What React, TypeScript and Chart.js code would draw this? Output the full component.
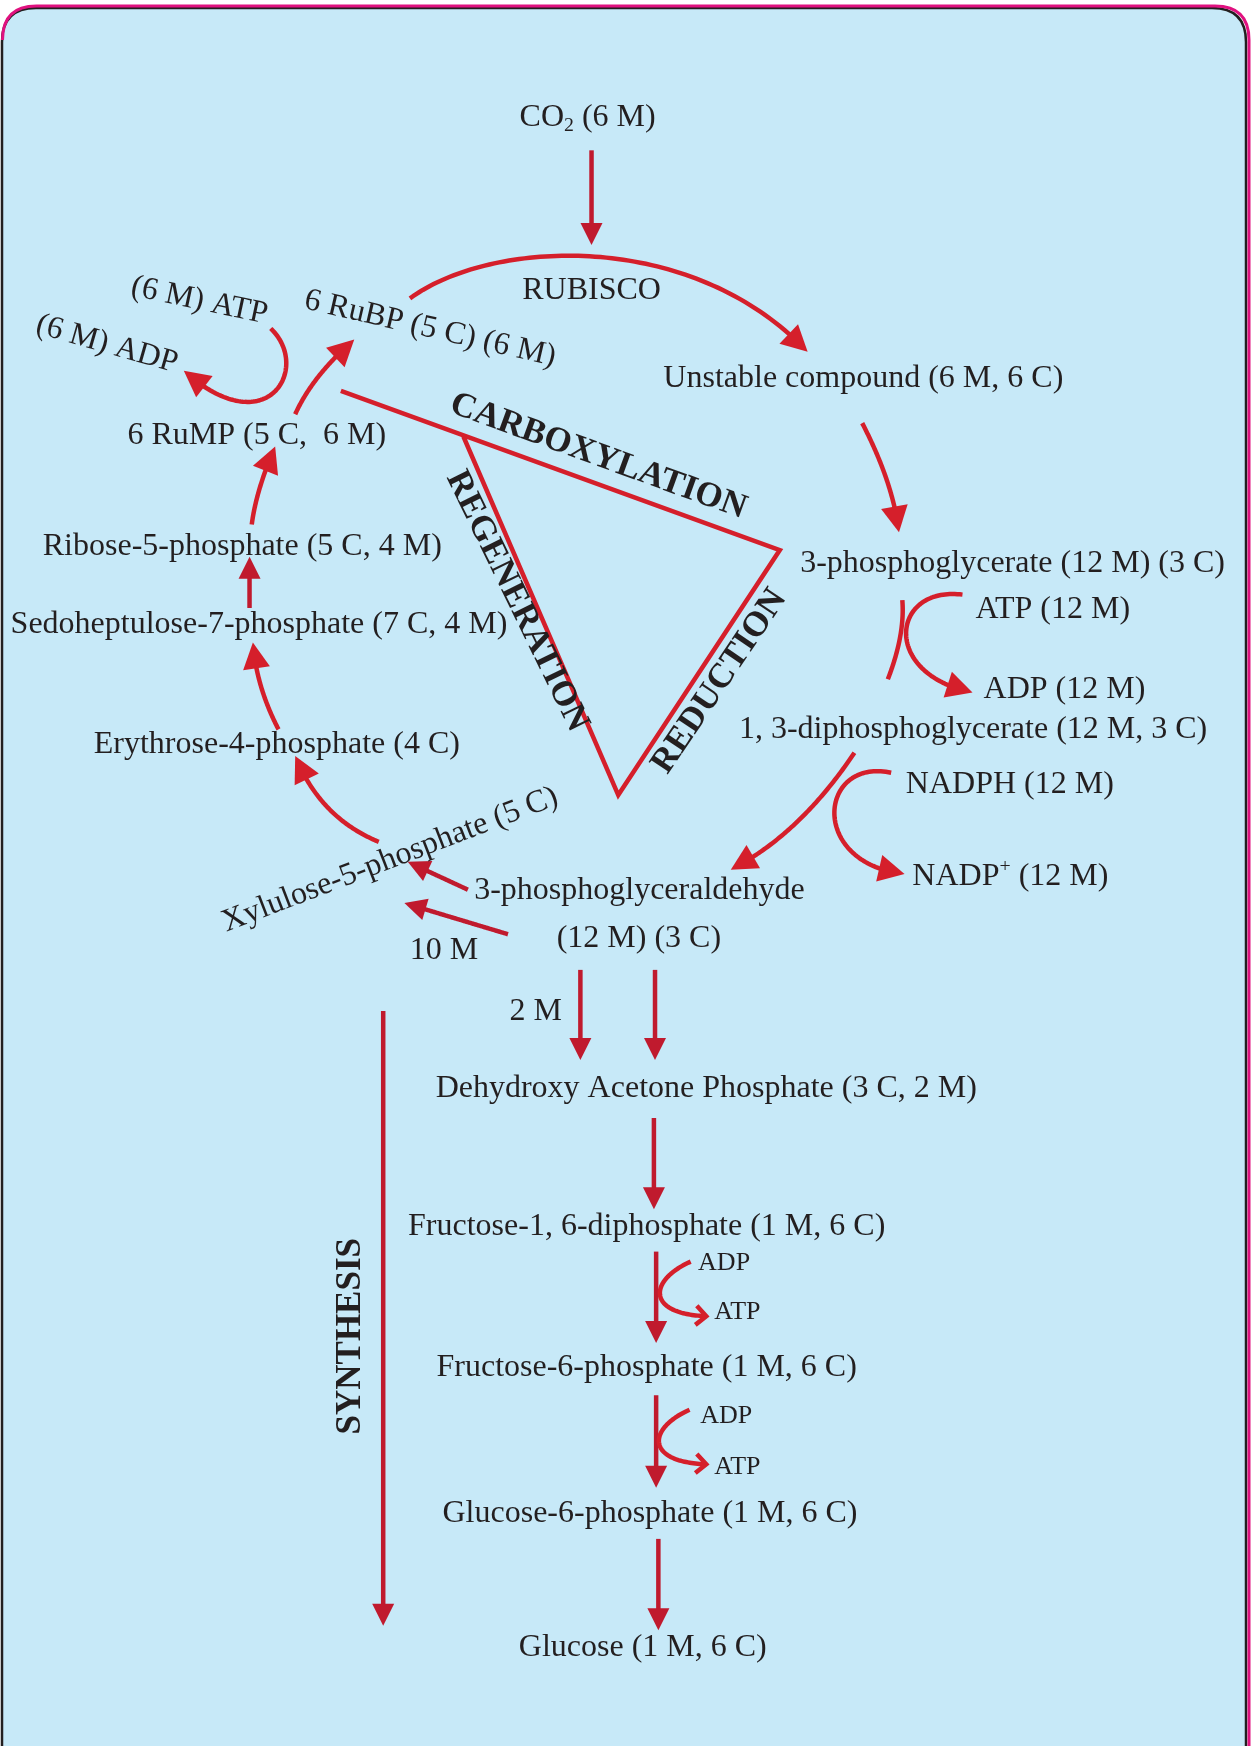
import React, { useEffect, useRef } from "react";
import { Chart, registerables } from "chart.js";

Chart.register(...registerables);

// Data space of the diagram (x to the right, y downward)
const SPACE_W = 1123;
const SPACE_H = 1568;

// Horizontal compound / cofactor labels
const labelText = [
  "RUBISCO",
  "Unstable compound (6 M, 6 C)",
  "3-phosphoglycerate (12 M) (3 C)",
  "ATP (12 M)",
  "ADP (12 M)",
  "1, 3-diphosphoglycerate (12 M, 3 C)",
  "NADPH (12 M)",
  "3-phosphoglyceraldehyde",
  "(12 M) (3 C)",
  "10 M",
  "2 M",
  "Erythrose-4-phosphate (4 C)",
  "Sedoheptulose-7-phosphate (7 C, 4 M)",
  "Ribose-5-phosphate (5 C, 4 M)",
  "6 RuMP (5 C,  6 M)",
  "Dehydroxy Acetone Phosphate (3 C, 2 M)",
  "Fructose-1, 6-diphosphate (1 M, 6 C)",
  "Fructose-6-phosphate (1 M, 6 C)",
  "Glucose-6-phosphate (1 M, 6 C)",
  "Glucose (1 M, 6 C)",
  "ADP",
  "ATP",
  "ADP",
  "ATP",
];
const labelX = [531, 775, 909, 945, 955.5, 873.5, 906.5, 574, 573.5, 398.5, 481, 248.5, 232.5, 217.5, 230.5, 634, 580.5, 580.5, 583.5, 577, 650, 662, 652, 662];
const labelY = [259, 338, 504, 545, 617, 653, 702, 798, 841, 851, 906, 666, 559, 489, 389, 975, 1099, 1226, 1357, 1477, 1132, 1176, 1270, 1315];
const labelSize = [32, 32, 32, 32, 32, 32, 32, 32, 32, 32, 32, 32, 32, 32, 32, 32, 32, 32, 32, 32, 26, 26, 26, 26];

// Tilted labels
const tiltText = ["6 RuBP (5 C) (6 M)", "(6 M) ATP", "(6 M) ADP", "Xylulose-5-phosphate (5 C)"];
const tiltX = [386, 179, 96, 350];
const tiltY = [293, 268, 307, 770];
const tiltAngle = [13, 12, 16, -21];
const tiltSize = [32, 32, 32, 32];

// Phase labels (bold)
const phaseText = ["CARBOXYLATION", "REGENERATION", "REDUCTION", "SYNTHESIS"];
const phaseX = [537, 464, 646, 315];
const phaseY = [410, 540, 612, 1200];
const phaseAngle = [20, 64, -56, -90];

// Labels with sub/superscripts: [text, relative size, baseline shift]
const richParts: [string, number, number][][] = [
  [["CO", 1, 0], ["2", 0.62, 0.28], [" (6 M)", 1, 0]],
  [["NADP", 1, 0], ["+", 0.62, -0.3], [" (12 M)", 1, 0]],
];
const richX = [527.5, 907];
const richY = [103, 785];

// Phase triangle + carboxylation line (polyline)
const triangleX = [306, 700, 555, 416];
const triangleY = [351, 494, 714, 392];

// Straight arrows: x0, y0, x1 (tip), y1 (tip)
const straightArrows: number[][] = [
  [531, 135, 531, 220],
  [420, 799, 366, 774],
  [456, 839, 363, 811],
  [521, 871, 521, 952],
  [588, 871, 588, 952],
  [587, 1004, 587, 1086],
  [589, 1124, 589, 1206],
  [589, 1253, 589, 1336],
  [591, 1382, 591, 1464],
  [344, 908, 344, 1460],
  [224, 546, 224, 500],
];

// Curved arrows in the cycle: cubic (8 numbers) or quadratic (6 numbers), last point is the tip
const cycleArrows: number[][] = [
  [368, 268, 440, 215, 620, 205, 725, 316],
  [774, 380, 801.5, 433, 807, 478],
  [864, 534, 800, 526, 790, 605, 873, 622],
  [767, 676, 717.7, 749.5, 656, 781],
  [800, 694, 735, 680, 725, 775, 812, 785],
  [340, 756, 287.5, 734.5, 265, 679],
  [250, 655, 230, 616.5, 227, 577],
  [226, 471, 230, 440, 247, 401],
  [265, 372, 280.5, 337.5, 318, 305],
  [243, 295, 280, 330, 240, 400, 165, 333],
];

// Curves without a head
const plainCurves: number[][] = [[810, 539, 812.5, 570, 797, 610]];

// ADP -> ATP side curves with open heads
const chevronCurves: number[][] = [
  [620, 1133, 582, 1150, 580, 1180, 634, 1182],
  [619, 1266, 581, 1283, 579, 1313, 634, 1315],
];

const RED = "#D51F2B";
const DARK_RED = "#C01A2E";
const INK = "#231F20";
const BG = "#C7E9F8";
const MAGENTA = "#E0117F";
const SERIF = "'Liberation Serif', 'Times New Roman', serif";
const TEXT_DY = 2.5;

type Pt = [number, number];

function samplePath(pts: Pt[]): Pt[] {
  const out: Pt[] = [];
  const n = 80;
  for (let i = 0; i <= n; i++) {
    const t = i / n;
    if (pts.length === 2) {
      out.push([pts[0][0] + (pts[1][0] - pts[0][0]) * t, pts[0][1] + (pts[1][1] - pts[0][1]) * t]);
    } else if (pts.length === 3) {
      const a = (1 - t) * (1 - t), b = 2 * (1 - t) * t, c = t * t;
      out.push([a * pts[0][0] + b * pts[1][0] + c * pts[2][0], a * pts[0][1] + b * pts[1][1] + c * pts[2][1]]);
    } else {
      const a = (1 - t) ** 3, b = 3 * (1 - t) ** 2 * t, c = 3 * (1 - t) * t * t, d = t ** 3;
      out.push([
        a * pts[0][0] + b * pts[1][0] + c * pts[2][0] + d * pts[3][0],
        a * pts[0][1] + b * pts[1][1] + c * pts[2][1] + d * pts[3][1],
      ]);
    }
  }
  return out;
}

function drawPolyline(ctx: CanvasRenderingContext2D, pts: Pt[], color: string, width: number) {
  if (pts.length < 2) return;
  ctx.beginPath();
  ctx.moveTo(pts[0][0], pts[0][1]);
  for (let i = 1; i < pts.length; i++) ctx.lineTo(pts[i][0], pts[i][1]);
  ctx.strokeStyle = color;
  ctx.lineWidth = width;
  ctx.lineCap = "butt";
  ctx.lineJoin = "round";
  ctx.stroke();
}

function pointBack(path: Pt[], dist: number): Pt {
  const tip = path[path.length - 1];
  for (let i = path.length - 1; i >= 0; i--) {
    if (Math.hypot(path[i][0] - tip[0], path[i][1] - tip[1]) >= dist) return path[i];
  }
  return path[0];
}

function drawArrowPath(ctx: CanvasRenderingContext2D, path: Pt[], color: string, width: number, len: number, wid: number) {
  const tip = path[path.length - 1];
  const trimmed = path.filter((p) => Math.hypot(p[0] - tip[0], p[1] - tip[1]) > len * 0.6);
  const back = pointBack(path, len);
  trimmed.push([tip[0] + (back[0] - tip[0]) * 0.6, tip[1] + (back[1] - tip[1]) * 0.6]);
  drawPolyline(ctx, trimmed, color, width);
  const dx = tip[0] - back[0], dy = tip[1] - back[1];
  const d = Math.hypot(dx, dy) || 1;
  const ux = dx / d, uy = dy / d;
  const bx = tip[0] - ux * len, by = tip[1] - uy * len;
  ctx.beginPath();
  ctx.moveTo(tip[0], tip[1]);
  ctx.lineTo(bx - uy * wid / 2, by + ux * wid / 2);
  ctx.lineTo(bx + uy * wid / 2, by - ux * wid / 2);
  ctx.closePath();
  ctx.fillStyle = color;
  ctx.fill();
}

function drawChevronPath(ctx: CanvasRenderingContext2D, path: Pt[], color: string, width: number) {
  drawPolyline(ctx, path, color, width);
  const tip = path[path.length - 1];
  const back = pointBack(path, 12);
  const ang = Math.atan2(tip[1] - back[1], tip[0] - back[0]);
  const L = 14;
  ctx.beginPath();
  ctx.moveTo(tip[0] - L * Math.cos(ang - 0.75), tip[1] - L * Math.sin(ang - 0.75));
  ctx.lineTo(tip[0], tip[1]);
  ctx.lineTo(tip[0] - L * Math.cos(ang + 0.75), tip[1] - L * Math.sin(ang + 0.75));
  ctx.strokeStyle = color;
  ctx.lineWidth = width;
  ctx.lineJoin = "miter";
  ctx.stroke();
}

function roundRectPath(ctx: CanvasRenderingContext2D, x: number, y: number, w: number, h: number, r: number) {
  ctx.beginPath();
  ctx.moveTo(x + r, y);
  ctx.lineTo(x + w - r, y);
  ctx.quadraticCurveTo(x + w, y, x + w, y + r);
  ctx.lineTo(x + w, y + h - r);
  ctx.quadraticCurveTo(x + w, y + h, x + w - r, y + h);
  ctx.lineTo(x + r, y + h);
  ctx.quadraticCurveTo(x, y + h, x, y + h - r);
  ctx.lineTo(x, y + r);
  ctx.quadraticCurveTo(x, y, x + r, y);
  ctx.closePath();
}

const diagramPlugin = {
  id: "calvinDiagram",
  beforeDraw(chart: any) {
    const ctx: CanvasRenderingContext2D = chart.ctx;
    const W = chart.width;
    const H = chart.height;
    ctx.save();
    ctx.fillStyle = "#ffffff";
    ctx.fillRect(0, 0, W, H);
    roundRectPath(ctx, 2, 8, W - 7, H + 60, 34);
    ctx.fillStyle = BG;
    ctx.fill();
    ctx.strokeStyle = INK;
    ctx.lineWidth = 2.5;
    ctx.stroke();
    // magenta outline along the top-left corner, top edge and right edge
    const r = 34;
    const left = 2.5;
    const top = 6;
    const right = W - 2;
    ctx.beginPath();
    ctx.moveTo(left, top + r);
    ctx.quadraticCurveTo(left, top, left + r, top);
    ctx.lineTo(right - r, top);
    ctx.quadraticCurveTo(right, top, right, top + r);
    ctx.lineTo(right, H + 10);
    ctx.strokeStyle = MAGENTA;
    ctx.lineWidth = 3;
    ctx.lineCap = "butt";
    ctx.stroke();
    ctx.restore();
  },
  afterDatasetsDraw(chart: any) {
    const ctx: CanvasRenderingContext2D = chart.ctx;
    const sx = chart.scales.x;
    const sy = chart.scales.y;
    const P = (x: number, y: number): Pt => [sx.getPixelForValue(x), sy.getPixelForValue(y)];
    const toPts = (a: number[]): Pt[] => {
      const pts: Pt[] = [];
      for (let i = 0; i < a.length; i += 2) pts.push(P(a[i], a[i + 1]));
      return pts;
    };
    ctx.save();

    straightArrows.forEach((a) => {
      drawArrowPath(ctx, samplePath(toPts(a)), DARK_RED, 4.5, 22, 22);
    });
    cycleArrows.forEach((a) => {
      drawArrowPath(ctx, samplePath(toPts(a)), RED, 4.5, 26, 27);
    });
    plainCurves.forEach((a) => drawPolyline(ctx, samplePath(toPts(a)), RED, 4.5));
    chevronCurves.forEach((a) => drawChevronPath(ctx, samplePath(toPts(a)), RED, 4.5));

    ctx.fillStyle = INK;
    ctx.textBaseline = "middle";
    ctx.textAlign = "center";

    labelText.forEach((t, i) => {
      const [px, py] = P(labelX[i], labelY[i]);
      ctx.font = `${labelSize[i]}px ${SERIF}`;
      ctx.fillText(t, px, py + TEXT_DY);
    });

    tiltText.forEach((t, i) => {
      const [px, py] = P(tiltX[i], tiltY[i]);
      ctx.save();
      ctx.translate(px, py + TEXT_DY);
      ctx.rotate((tiltAngle[i] * Math.PI) / 180);
      ctx.font = `${tiltSize[i]}px ${SERIF}`;
      ctx.fillText(t, 0, 0);
      ctx.restore();
    });

    phaseText.forEach((t, i) => {
      const [px, py] = P(phaseX[i], phaseY[i]);
      ctx.save();
      ctx.translate(px, py);
      ctx.rotate((phaseAngle[i] * Math.PI) / 180);
      ctx.font = `bold 35px ${SERIF}`;
      ctx.fillText(t, 0, 0);
      ctx.restore();
    });

    richParts.forEach((parts, i) => {
      const [px, py] = P(richX[i], richY[i]);
      const base = 32;
      let total = 0;
      parts.forEach(([t, s]) => {
        ctx.font = `${base * s}px ${SERIF}`;
        total += ctx.measureText(t).width;
      });
      let x = px - total / 2;
      ctx.textAlign = "left";
      parts.forEach(([t, s, dy]) => {
        ctx.font = `${base * s}px ${SERIF}`;
        ctx.fillText(t, x, py + TEXT_DY + dy * base);
        x += ctx.measureText(t).width;
      });
      ctx.textAlign = "center";
    });

    ctx.restore();
  },
};

export default function App() {
  const canvasRef = useRef<HTMLCanvasElement | null>(null);

  useEffect(() => {
    document.body.style.margin = "0";
    const canvas = canvasRef.current;
    if (!canvas) return;
    const chart = new Chart(canvas, {
      type: "scatter",
      data: {
        datasets: [
          {
            data: triangleX.map((x, i) => ({ x, y: triangleY[i] })),
            showLine: true,
            borderColor: RED,
            borderWidth: 4.5,
            borderJoinStyle: "miter",
            pointRadius: 0,
            tension: 0,
          } as any,
        ],
      },
      options: {
        animation: false,
        responsive: false,
        devicePixelRatio: 1,
        events: [],
        layout: { padding: 0 },
        plugins: {
          legend: { display: false },
          tooltip: { enabled: false },
        },
        scales: {
          x: { type: "linear", min: 0, max: SPACE_W, display: false },
          y: { type: "linear", min: 0, max: SPACE_H, reverse: true, display: false },
        },
      },
      plugins: [diagramPlugin],
    });
    return () => chart.destroy();
  }, []);

  return <canvas ref={canvasRef} width={1251} height={1746} style={{ display: "block" }} />;
}
